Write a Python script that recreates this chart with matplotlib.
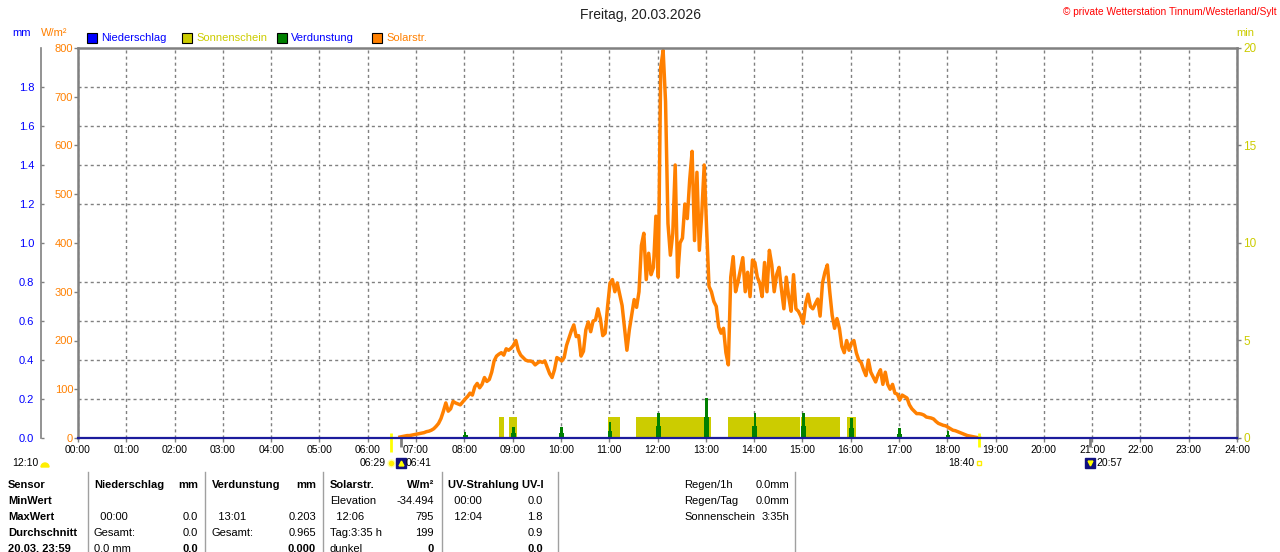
import numpy as np
import matplotlib
matplotlib.use('Agg')
import matplotlib.pyplot as plt
from matplotlib.lines import Line2D
from matplotlib.patches import Rectangle, Wedge

# ------------------------------------------------------------------
# Data
# ------------------------------------------------------------------
TITLE = 'Freitag, 20.03.2026'
CREDIT = '\u00a9 private Wetterstation Tinnum/Westerland/Sylt'

hour_labels = ['%02d:00' % h for h in range(25)]

# Solar radiation in W/m², one value every 3 minutes from 06:40 to 18:40
solar_first = '06:40'
solar_step_min = 3
solar_wm2 = [
    2, 3, 4, 5, 5, 6, 7,                                                                      # 06:40
    8, 9, 10, 11, 13, 14, 16, 19, 24, 30, 40, 55, 72, 55, 60, 75, 72, 70, 68, 74,             # 07:01
    80, 85, 92, 88, 105, 112, 103, 110, 124, 116, 120, 135, 158, 168, 172, 175, 170, 183, 180, 184,
    190, 200, 180, 170, 165, 160, 158, 158, 156, 150, 154, 157, 155, 158, 145, 132, 124, 140, 165, 162,
    158, 165, 190, 205, 220, 232, 208, 210, 168, 178, 222, 238, 218, 240, 242, 265, 245, 210, 215, 270,
    318, 325, 300, 318, 295, 272, 225, 180, 222, 253, 284, 268, 300, 395, 420, 325, 379, 335, 350, 455,
    330, 760, 795, 690, 440, 375, 420, 560, 330, 400, 410, 480, 450, 530, 588, 405, 545, 385, 460, 560,
    430, 311, 300, 280, 270, 228, 215, 225, 175, 150, 330, 372, 300, 320, 345, 370, 300, 340, 290, 365,
    360, 330, 318, 290, 360, 300, 385, 355, 300, 335, 350, 305, 265, 330, 290, 260, 335, 265, 260, 250,
    235, 275, 295, 270, 265, 275, 285, 250, 318, 340, 355, 300, 252, 225, 245, 225, 188, 175, 200, 180,
    195, 200, 175, 160, 155, 140, 128, 160, 135, 125, 115, 130, 140, 110, 135, 110, 100, 110, 92, 90,
    78, 88, 85, 82, 68, 60, 55, 50, 50, 49, 47, 43, 42, 41, 39, 34, 30, 28, 26, 25,
    22, 19, 16, 15, 13, 11, 9, 7, 5, 4, 3, 2, 1, 0,                                         # 18:01
]

# Sunshine (min per minute) periods
sun_from = ['08:43', '08:55', '10:58', '11:33', '13:28', '14:58', '15:55']
sun_to = ['08:49', '09:06', '11:14', '13:07', '14:57', '15:47', '16:07']
sun_min = [1.1, 1.1, 1.1, 1.1, 1.1, 1.1, 1.1]

# Evaporation (mm), hourly spikes
evap_time = ['08:01', '09:01', '10:01', '11:01', '12:01', '13:01',
             '14:01', '15:01', '16:01', '17:01', '18:01']
evap_peak = [0.030, 0.056, 0.055, 0.080, 0.130, 0.203, 0.130, 0.130, 0.104, 0.053, 0.036]
evap_base = [0.015, 0.025, 0.025, 0.035, 0.063, 0.106, 0.060, 0.060, 0.050, 0.020, 0.015]

# Precipitation (mm)
rain_time = ['00:00', '24:00']
rain_mm = [0.0, 0.0]

w_ticks = [0, 100, 200, 300, 400, 500, 600, 700, 800]
mm_ticks = [0.0, 0.2, 0.4, 0.6, 0.8, 1.0, 1.2, 1.4, 1.6, 1.8]
min_ticks = [0, 5, 10, 15, 20]

legend_labels = ['Niederschlag', 'Sonnenschein', 'Verdunstung', 'Solarstr.']

sunrise, moonrise, sunset, moonset = '06:29', '06:41', '18:40', '20:57'
noon_label = '12:10'

# table below the chart
sensor_col = ['Sensor', 'MinWert', 'MaxWert', 'Durchschnitt', '20.03. 23:59']
rain_block = [('Niederschlag', 'mm'), ('', ''), ('  00:00', '0.0'), ('Gesamt:', '0.0'), ('0.0 mm', '0.0')]
evap_block = [('Verdunstung', 'mm'), ('', ''), ('  13:01', '0.203'), ('Gesamt:', '0.965'), ('', '0.000')]
solar_block = [('Solarstr.', 'W/m\u00b2'), ('Elevation', '-34.494'), ('  12:06', '795'),
               ('Tag:3:35 h', '199'), ('dunkel', '0')]
uv_block = [('UV-Strahlung UV-I', ''), ('  00:00', '0.0'), ('  12:04', '1.8'), ('', '0.9'), ('', '0.0')]
extra_block = [('Regen/1h', '0.0mm'), ('Regen/Tag', '0.0mm'), ('Sonnenschein', '3:35h')]

# ------------------------------------------------------------------
W, H = 1280, 552
ORANGE = '#FF8000'
YELLOW = '#CCCC00'
GREEN = '#008000'
BLUE = '#0000FF'
NAVY = '#1C1C9C'
GRAY = '#808080'

plt.rcParams['font.family'] = ['Liberation Sans', 'DejaVu Sans']


def to_hours(s):
    h, m = s.split(':')
    return int(h) + int(m) / 60.0


def fx(x):
    return x / W


def fy(y):
    return 1 - y / H


def main():
    fig = plt.figure(figsize=(W / 100, H / 100), dpi=100)
    L, R, T, B = 78, 1237, 48, 438
    ax = fig.add_axes([fx(L), fy(B), (R - L) / W, (B - T) / H])
    ax_min = ax.twinx()
    ax_mm = ax.twinx()

    # main axis: solar radiation
    t0 = to_hours(solar_first)
    solar_t = t0 + np.arange(len(solar_wm2)) * solar_step_min / 60.0
    ax.set_xlim(0, 24)
    ax.set_ylim(0, 800)
    ax.set_xticks(range(25))
    ax.set_xticklabels(hour_labels)
    ax.set_yticks(w_ticks)
    ax.set_yticks(np.arange(80, 800, 80), minor=True)
    ax.grid(axis='x', which='major', color=GRAY, ls=(0, (2.2, 2.2)), lw=1.0)
    ax.grid(axis='y', which='minor', color=GRAY, ls=(0, (2.2, 2.2)), lw=1.0)
    ax.set_axisbelow(True)
    ax.tick_params(axis='y', which='minor', length=0)
    ax.tick_params(axis='y', which='major', direction='out', length=3, width=1,
                   color=GRAY, labelcolor=ORANGE, labelsize=8, pad=0.5)
    ax.tick_params(axis='x', direction='out', length=3, width=1, color=GRAY,
                   labelsize=7.5, pad=2)
    for side in ['left', 'top', 'right']:
        ax.spines[side].set_color(GRAY)
        ax.spines[side].set_linewidth(1.8)
    ax.spines['bottom'].set_visible(False)
    ax.plot(solar_t, solar_wm2, color=ORANGE, lw=2.5)

    # sunshine minutes, right axis
    s_from = np.array([to_hours(s) for s in sun_from])
    s_to = np.array([to_hours(s) for s in sun_to])
    ax_min.bar(s_from, sun_min, width=s_to - s_from, align='edge', color=YELLOW, lw=0)
    ax_min.set_ylim(0, 20)
    ax_min.set_yticks(min_ticks)
    ax_min.tick_params(axis='y', direction='out', length=3, width=1, color=GRAY,
                       labelcolor=YELLOW, labelsize=8.5, pad=1.5)
    for side in ax_min.spines:
        ax_min.spines[side].set_visible(False)

    # evaporation / precipitation, left outer mm axis
    e_t = np.array([to_hours(s) for s in evap_time])
    ax_mm.bar(e_t, evap_base, width=0.10, color=GREEN, lw=0)
    ax_mm.bar(e_t, evap_peak, width=0.055, color=GREEN, lw=0)
    ax_mm.plot([to_hours(s) for s in rain_time], rain_mm, color=NAVY, lw=1.6, clip_on=False)
    ax_mm.set_ylim(0, 2.0)
    ax_mm.yaxis.set_ticks_position('left')
    ax_mm.set_yticks(mm_ticks)
    ax_mm.set_yticklabels(['%.1f' % v for v in mm_ticks])
    ax_mm.tick_params(axis='y', direction='in', length=2.5, width=1, color=GRAY,
                      labelcolor=BLUE, labelsize=8, pad=4.8)
    for side in ax_mm.spines:
        ax_mm.spines[side].set_visible(False)
    ax_mm.spines['left'].set_visible(True)
    ax_mm.spines['left'].set_position(('outward', 37 * 0.72))
    ax_mm.spines['left'].set_color(GRAY)
    ax_mm.spines['left'].set_linewidth(1.2)

    # header texts
    fig.text(fx(641), fy(15), TITLE, ha='center', va='center', fontsize=10, color='#202020')
    fig.text(fx(1277), fy(12), CREDIT, ha='right', va='center', fontsize=7.3, color='#FF0000')
    fig.text(fx(22), fy(33), 'mm', ha='center', va='center', fontsize=8, color=BLUE)
    fig.text(fx(54), fy(33), 'W/m\u00b2', ha='center', va='center', fontsize=8, color=ORANGE)
    fig.text(fx(1245), fy(33), 'min', ha='center', va='center', fontsize=8, color=YELLOW)

    # legend
    sq_colors = [BLUE, YELLOW, GREEN, ORANGE]
    txt_colors = [BLUE, YELLOW, BLUE, ORANGE]
    for i, lab in enumerate(legend_labels):
        x0 = 87 + i * 95
        fig.add_artist(Rectangle((x0 / 100, (H - 43) / 100), 0.1, 0.1,
                                 transform=fig.dpi_scale_trans, facecolor=sq_colors[i],
                                 edgecolor='black', lw=0.8))
        fig.text(fx(x0 + 14), fy(38), lab, ha='left', va='center', fontsize=8,
                 color=txt_colors[i])

    # sun / moon events below the time axis
    xtr = ax.get_xaxis_transform()
    y_ev = -25 / 390.0
    for t, c, y1 in [(sunrise, '#FFFF00', -14), (moonrise, GRAY, -9),
                     (sunset, '#FFFF00', -9), (moonset, GRAY, -9)]:
        ax.plot([to_hours(t)] * 2, [5 / 390.0 if c != GRAY else 0, y1 / 390.0],
                transform=xtr, color=c, lw=2, clip_on=False, solid_capstyle='butt')
    ax.plot([to_hours(sunrise)], [y_ev], 'o', transform=xtr, ms=5, color='#FFEE00',
            mec='#FFFFAA', clip_on=False)
    for t, mk in [(moonrise, '^'), (moonset, 'v')]:
        ax.plot([to_hours(t)], [y_ev], 's', transform=xtr, ms=7, color='#101080', clip_on=False)
        ax.plot([to_hours(t)], [y_ev], mk, transform=xtr, ms=3.5, color='#FFFF00', clip_on=False)
    ax.plot([to_hours(sunset)], [y_ev], 's', transform=xtr, ms=3.5, mfc='none',
            mec='#FFEE00', mew=1, clip_on=False)
    ann = dict(xycoords=xtr, textcoords='offset points', va='center', fontsize=7.5)
    ax.annotate(sunrise, (to_hours(sunrise), y_ev), xytext=(-3.5, 0), ha='right', **ann)
    ax.annotate(moonrise, (to_hours(moonrise), y_ev), xytext=(3.8, 0), ha='left', **ann)
    ax.annotate(sunset, (to_hours(sunset), y_ev), xytext=(-4, 0), ha='right', **ann)
    ax.annotate(moonset, (to_hours(moonset), y_ev), xytext=(4.5, 0), ha='left', **ann)
    fig.text(fx(12), fy(463), noon_label, ha='left', va='center', fontsize=7.5)
    fig.add_artist(Wedge((45 / 100, (H - 467) / 100), 0.04, 0, 180,
                         transform=fig.dpi_scale_trans, color='#FFEE00'))

    # table
    for xs in [88, 205, 323, 442, 558, 795]:
        fig.add_artist(Line2D([fx(xs)] * 2, [fy(472), 0], transform=fig.transFigure,
                              color='#A0A0A0', lw=1))
    rows_y = [485, 501, 517, 533, 549]
    for i, lab in enumerate(sensor_col):
        fig.text(fx(8), fy(rows_y[i]), lab, ha='left', va='center', fontsize=8,
                 fontweight='bold')
    blocks = [(rain_block, 94, 198), (evap_block, 212, 316),
              (solar_block, 330, 434), (uv_block, 448, 543)]
    for block, xl, xr in blocks:
        for i, (left, right) in enumerate(block):
            head = i == 0
            fig.text(fx(xl), fy(rows_y[i]), left, ha='left', va='center', fontsize=8,
                     fontweight='bold' if head else 'normal')
            fig.text(fx(xr), fy(rows_y[i]), right, ha='right', va='center', fontsize=8,
                     fontweight='bold' if (head or i == 4) else 'normal')
    for i, (left, right) in enumerate(extra_block):
        fig.text(fx(684), fy(rows_y[i]), left, ha='left', va='center', fontsize=8)
        fig.text(fx(789), fy(rows_y[i]), right, ha='right', va='center', fontsize=8)

    fig.savefig('out.png', dpi=100)


if __name__ == '__main__':
    main()
